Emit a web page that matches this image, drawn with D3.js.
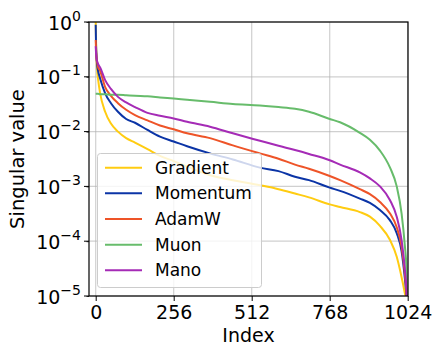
<!DOCTYPE html>
<html>
<head>
<meta charset="utf-8">
<script src="https://cdn.jsdelivr.net/npm/d3@7"></script>
<style>
  body { margin: 0; background: #fff; }
  text { font-family: "DejaVu Sans", sans-serif; fill: #000; }
</style>
</head>
<body>
<div id="chart"></div>
<script>
// data
var index = [0, 1, 2, 3, 5, 8, 14, 31, 50, 73, 100, 129, 170, 211, 256, 300, 375, 450, 539, 600, 654, 700, 768, 802, 867, 900, 933, 966, 988, 1004, 1015, 1020, 1023];

var gradient = [1.0, 0.50, 0.28, 0.20, 0.126, 0.089, 0.052, 0.023, 0.014, 0.010, 7.6e-3, 6.3e-3, 4.8e-3, 3.6e-3, 2.9e-3, 2.3e-3, 1.6e-3, 1.3e-3, 1.05e-3, 8.9e-4, 7.4e-4, 6.3e-4, 4.7e-4, 4.2e-4, 3.4e-4, 2.8e-4, 1.9e-4, 1.05e-4, 5.2e-5, 2.2e-5, 1.1e-5, 8e-6, 5e-6];
var momentum = [0.89, 0.40, 0.28, 0.22, 0.16, 0.126, 0.095, 0.050, 0.033, 0.023, 0.017, 0.0145, 0.0107, 8.1e-3, 6.6e-3, 5.4e-3, 4.0e-3, 3.1e-3, 2.2e-3, 1.9e-3, 1.5e-3, 1.3e-3, 9.5e-4, 8.3e-4, 6.0e-4, 5.0e-4, 3.7e-4, 2.4e-4, 1.4e-4, 6.5e-5, 2.0e-5, 1.0e-5, 5e-6];
var adamw = [0.47, 0.32, 0.25, 0.21, 0.18, 0.15, 0.13, 0.065, 0.045, 0.033, 0.025, 0.020, 0.016, 0.0129, 0.011, 9.3e-3, 7.6e-3, 5.6e-3, 4.0e-3, 3.2e-3, 2.5e-3, 2.1e-3, 1.55e-3, 1.3e-3, 8.9e-4, 7.2e-4, 5.2e-4, 3.2e-4, 1.8e-4, 7.9e-5, 2.5e-5, 1.1e-5, 5e-6];
var muon = [0.049, 0.049, 0.049, 0.049, 0.049, 0.049, 0.048, 0.048, 0.047, 0.047, 0.046, 0.045, 0.044, 0.042, 0.040, 0.038, 0.035, 0.032, 0.030, 0.028, 0.026, 0.023, 0.017, 0.0148, 9.5e-3, 7.1e-3, 4.5e-3, 2.2e-3, 1.0e-3, 3.2e-4, 7.9e-5, 3.2e-5, 5e-6];
var mano = [0.36, 0.28, 0.24, 0.21, 0.19, 0.17, 0.15, 0.087, 0.060, 0.043, 0.034, 0.028, 0.022, 0.0195, 0.0174, 0.0151, 0.0123, 9.3e-3, 6.8e-3, 5.5e-3, 4.6e-3, 3.9e-3, 3.0e-3, 2.5e-3, 1.8e-3, 1.4e-3, 1.0e-3, 5.6e-4, 2.8e-4, 1.05e-4, 3.0e-5, 1.3e-5, 5e-6];

var names = ["Gradient", "Momentum", "AdamW", "Muon", "Mano"];
var colors = ["#ffcc11", "#0b34a6", "#ee5428", "#67bc6b", "#a52bb6"];
var xTicks = [0, 256, 512, 768, 1024];
var yTicks = [0, -1, -2, -3, -4, -5];

var series = [gradient, momentum, adamw, muon, mano].map(function(vals, k) {
  return {name: names[k], color: colors[k],
    values: vals.map(function(v, i) { return {i: index[i], v: v}; })};
});

var W = 435, H = 346;
var m = {left: 89, right: 408, top: 22, bottom: 296};

var svg = d3.select("#chart")
  .append("svg")
  .attr("width", W)
  .attr("height", H);

var x = d3.scaleLinear().domain([-22, 1025]).range([m.left, m.right]);
var y = d3.scaleLog().domain([1e-5, 1]).range([m.bottom, m.top]);

// grid
svg.append("g")
  .selectAll("line")
  .data(xTicks)
  .enter()
  .append("line")
  .attr("x1", d => x(d)).attr("x2", d => x(d))
  .attr("y1", m.top).attr("y2", m.bottom)
  .style("stroke", "#b0b0b0").style("stroke-opacity", 0.6).style("stroke-width", 1.2);

svg.append("g")
  .selectAll("line")
  .data(yTicks)
  .enter()
  .append("line")
  .attr("x1", m.left).attr("x2", m.right)
  .attr("y1", d => y(Math.pow(10, d))).attr("y2", d => y(Math.pow(10, d)))
  .style("stroke", "#b0b0b0").style("stroke-opacity", 0.6).style("stroke-width", 1.2);

// curves
svg.append("clipPath").attr("id", "plotClip")
  .append("rect")
  .attr("x", m.left).attr("y", m.top)
  .attr("width", m.right - m.left).attr("height", m.bottom - m.top);

var line = d3.line()
  .curve(d3.curveMonotoneX)
  .x(d => x(d.i))
  .y(d => y(d.v));

svg.append("g")
  .attr("clip-path", "url(#plotClip)")
  .selectAll("path")
  .data(series)
  .enter()
  .append("path")
  .attr("d", d => line(d.values))
  .style("fill", "none")
  .style("stroke", d => d.color)
  .style("stroke-width", 2)
  .style("stroke-linejoin", "round");

// axes
var xAxis = svg.append("g")
  .attr("transform", "translate(0," + m.bottom + ")")
  .call(d3.axisBottom(x).tickValues(xTicks).tickFormat(d3.format("d")).tickSize(5).tickPadding(5));
xAxis.select(".domain").remove();
xAxis.selectAll("text").style("font-size", "19px").attr("dy", "0.71em");

var yAxis = svg.append("g")
  .attr("transform", "translate(" + m.left + ",0)")
  .call(d3.axisLeft(y).ticks(5).tickSize(2.5).tickFormat(""));
yAxis.select(".domain").remove();
yAxis.selectAll("line").style("stroke-width", 0.8);

yAxis.selectAll(".major")
  .data(yTicks)
  .enter()
  .append("line")
  .attr("class", "major")
  .attr("x1", -5).attr("x2", 0)
  .attr("y1", d => y(Math.pow(10, d))).attr("y2", d => y(Math.pow(10, d)))
  .style("stroke", "#000").style("stroke-width", 1);

var yLabels = yAxis.selectAll(".ylab")
  .data(yTicks)
  .enter()
  .append("text")
  .attr("class", "ylab")
  .attr("text-anchor", "end")
  .attr("x", -8)
  .attr("y", d => y(Math.pow(10, d)) + 7.5);
yLabels.append("tspan").style("font-size", "19px").text("10");
yLabels.append("tspan").style("font-size", "14px").attr("dy", -9)
  .text(d => d === 0 ? "0" : "\u2212" + (-d));

// spines
svg.append("rect")
  .attr("x", m.left).attr("y", m.top)
  .attr("width", m.right - m.left).attr("height", m.bottom - m.top)
  .style("fill", "none").style("stroke", "#000").style("stroke-width", 1.2);

// axis titles
svg.append("text")
  .attr("x", (m.left + m.right) / 2)
  .attr("y", 341.5)
  .attr("text-anchor", "middle")
  .style("font-size", "19px")
  .text("Index");

svg.append("text")
  .attr("transform", "translate(24," + (m.top + m.bottom) / 2 + ") rotate(-90)")
  .attr("text-anchor", "middle")
  .style("font-size", "19.5px")
  .text("Singular value");

// legend
var legend = svg.append("g");
legend.append("rect")
  .attr("x", 97.5).attr("y", 153.5)
  .attr("width", 164).attr("height", 134)
  .attr("rx", 3)
  .style("fill", "#fff").style("fill-opacity", 0.8)
  .style("stroke", "#cccccc").style("stroke-width", 1);

var entry = legend.selectAll(".entry")
  .data(series)
  .enter()
  .append("g")
  .attr("class", "entry")
  .attr("transform", (d, k) => "translate(0," + (167.7 + k * 25.65) + ")");
entry.append("line")
  .attr("x1", 105).attr("x2", 142)
  .style("stroke", d => d.color).style("stroke-width", 2);
entry.append("text")
  .attr("x", 155).attr("y", 6)
  .style("font-size", "17px")
  .text(d => d.name);
</script>
</body>
</html>
